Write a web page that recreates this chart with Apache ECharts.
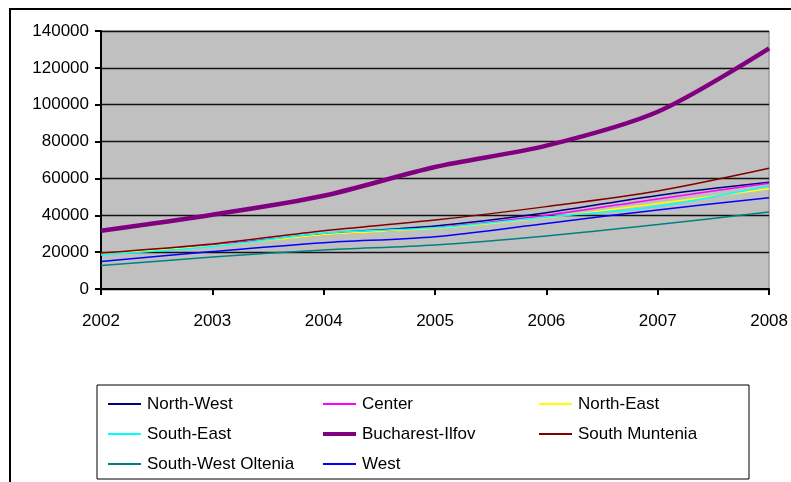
<!DOCTYPE html>
<html><head><meta charset="utf-8">
<script src="https://cdn.jsdelivr.net/npm/echarts@6/dist/echarts.min.js"></script>
<style>html,body{margin:0;padding:0;background:#fff}#c{width:791px;height:482px}</style>
</head><body><div id="c"></div>
<script>
const years = ['2002','2003','2004','2005','2006','2007','2008'];
const yTicks = [0,20000,40000,60000,80000,100000,120000,140000];
const northWest = [19000,23500,30000,34200,41400,50800,57900];
const center = [18800,23800,29500,33300,40000,48900,57400];
const northEast = [19200,23300,29500,32900,38800,46400,54400];
const southEast = [18500,23000,30300,33200,39000,44800,56000];
const bucharestIlfov = [31600,40300,50600,66200,77800,96200,130600];
const southMuntenia = [19500,24400,31600,37400,44700,53200,65500];
const southWestOltenia = [12700,17300,21200,23900,28800,35000,41800];
const west = [14900,20300,25100,28400,35600,42900,49500];

const seriesDefs = [
  ['North-West', northWest, '#000080', 1.5],
  ['Center', center, '#FF00FF', 1.5],
  ['North-East', northEast, '#FFFF00', 1.5],
  ['South-East', southEast, '#00FFFF', 1.5],
  ['Bucharest-Ilfov', bucharestIlfov, '#800080', 4.5],
  ['South Muntenia', southMuntenia, '#800000', 1.5],
  ['South-West Oltenia', southWestOltenia, '#008080', 1.5],
  ['West', west, '#0000FF', 1.5]
];
const font = 'Liberation Sans';
const chart = echarts.init(document.getElementById('c'), null, {renderer:'canvas'});
const colLeft = [108, 323, 539];
const rowCenter = [404, 434, 464];
const legends = seriesDefs.map((d, i) => {
  const col = i % 3, row = Math.floor(i / 3);
  const h = d[3] > 2 ? 4 : 2;
  return {
    show:true, data:[{name:d[0], icon:'rect', itemStyle:{color:d[2]}}],
    left:colLeft[col], top:rowCenter[row] - 10, itemWidth:33, itemHeight:h, itemGap:0,
    padding:0, selectedMode:false, z:10,
    textStyle:{fontFamily:font, fontSize:17, color:'#000', lineHeight:20, padding:[0,0,0,1]}
  };
});
chart.setOption({
  animation:false,
  backgroundColor:'#fff',
  graphic:[
    {type:'rect', shape:{x:10,y:9,width:800,height:500}, style:{fill:'none', stroke:'#000', lineWidth:2}, z:-1, silent:true},
    {type:'rect', shape:{x:97,y:385,width:652,height:94}, style:{fill:'none', stroke:'#000', lineWidth:1}, z:-1, silent:true}
  ],
  grid:{left:101, top:31, right:18, bottom:193, show:true, backgroundColor:'#C0C0C0', borderColor:'#808080', borderWidth:1},
  legend: legends,
  xAxis:{type:'category', data:years, boundaryGap:false,
    axisLine:{lineStyle:{color:'#000', width:2}},
    axisTick:{show:true, length:6, inside:false, lineStyle:{color:'#000', width:2}},
    axisLabel:{fontFamily:font, fontSize:17, color:'#000', margin:24},
    splitLine:{show:false}},
  yAxis:{type:'value', min:yTicks[0], max:yTicks[yTicks.length-1], interval:20000,
    axisLine:{show:true, lineStyle:{color:'#000', width:2}},
    axisTick:{show:true, length:6, lineStyle:{color:'#000', width:2}},
    axisLabel:{fontFamily:font, fontSize:17, color:'#000', margin:12, formatter:v=>String(v)},
    splitLine:{show:true, lineStyle:{color:'#111', width:1.3}}},
  series: seriesDefs.map(d=>({
    name:d[0], type:'line', data:d[1], smooth:0.3, symbol:'none',
    lineStyle:{color:d[2], width:d[3]}, itemStyle:{color:d[2]}
  }))
});
</script></body></html>
